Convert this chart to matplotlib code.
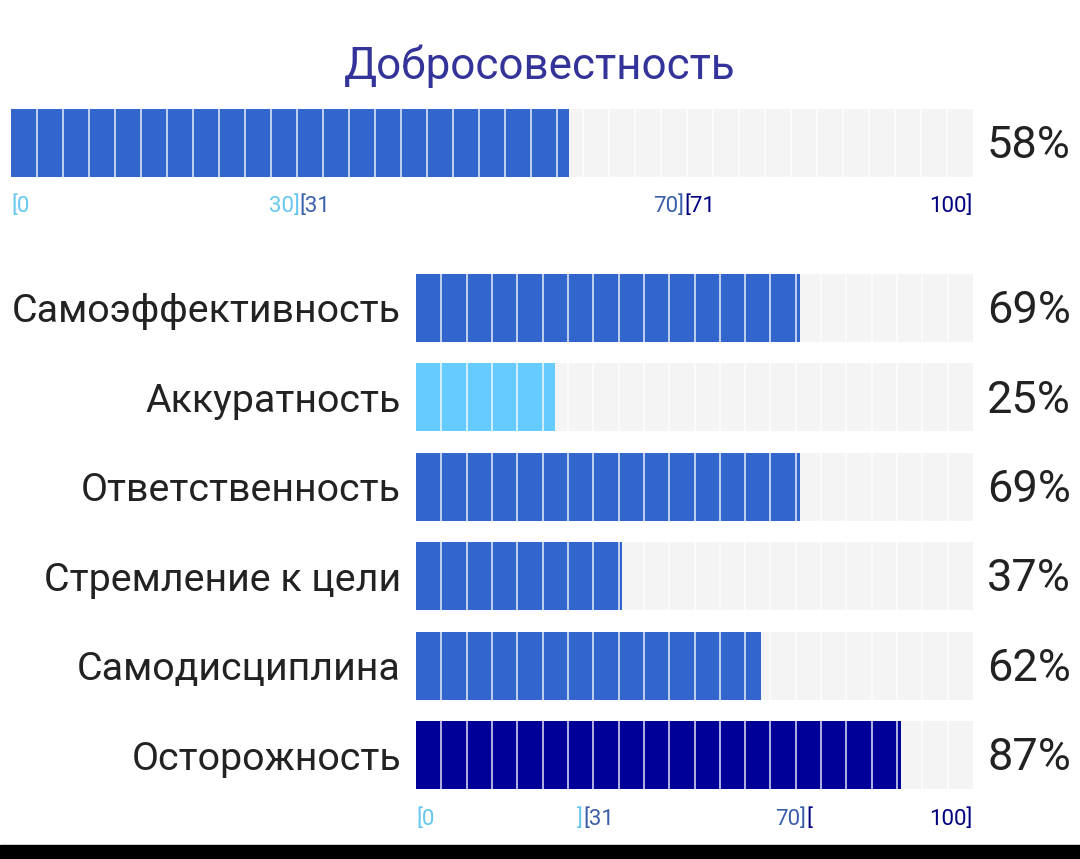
import matplotlib.pyplot as plt
from matplotlib.patches import Rectangle

plt.rcParams['font.family'] = ['Roboto', 'DejaVu Sans']

title = 'Добросовестность'
total_value = 58

facets = ['Самоэффективность', 'Аккуратность', 'Ответственность',
          'Стремление к цели', 'Самодисциплина', 'Осторожность']
facet_values = [69, 25, 69, 37, 62, 87]

LIGHT = '#66CCFF'
MID = '#3366CC'
DARK = '#000099'
BG = '#F4F4F4'


def bar_color(v):
    if v <= 30:
        return LIGHT
    if v <= 70:
        return MID
    return DARK


W, H = 1080, 859
fig = plt.figure(figsize=(W / 100, H / 100), dpi=100)


def px_axes(x0, y0, x1, y1):
    # y measured from top of the image
    return fig.add_axes([x0 / W, 1 - y1 / H, (x1 - x0) / W, (y1 - y0) / H])


def draw_bar(ax, y, v, h, nseg):
    ax.barh(y, 100, height=h, color=BG, left=0)
    ax.barh(y, v, height=h, color=bar_color(v), left=0)
    for k in range(1, nseg):
        ax.vlines(k * 100 / nseg, y - h / 2, y + h / 2, color='white',
                  lw=1.3, alpha=0.75)


# ---- top summary bar
ax_top = px_axes(11, 109, 973, 177)
draw_bar(ax_top, 0, total_value, 1, 37)
ax_top.set_xlim(0, 100)
ax_top.set_ylim(-0.5, 0.5)
ax_top.axis('off')
ax_top.text(100 + 14 / 9.62, -0.04, f'{total_value}%', ha='left',
            va='center', fontsize=32.5, color='#222222')

fig.text(540 / W, 1 - 66 / H, title, ha='center', va='center',
         fontsize=31.7, color='#333399')

tick_light = '#66C8EE'
tick_mid = '#3A5FAA'
tick_dark = '#000080'
top_ticks = [(0, '[0', tick_light, 'left'), (30, '30]', tick_light, 'right'),
             (30, '[31', tick_mid, 'left'), (70, '70]', tick_mid, 'right'),
             (70, '[71', tick_dark, 'left'), (100, '100]', tick_dark, 'right')]
for x, s, c, ha in top_ticks:
    ax_top.text(x, -0.93, s, ha=ha, va='center', fontsize=16, color=c)

# ---- facet bars
ax = px_axes(416, 274, 973, 789)
n = len(facets)
ys = list(range(n))
for y, v in zip(ys, facet_values):
    draw_bar(ax, y, v, 0.76, 22)
    ax.text(100 + 14 / 5.57, y + 0.035, f'{v}%', ha='left', va='center',
            fontsize=32.5, color='#222222')
    ax.text(-15 / 5.57, y + 0.045, facets[y], ha='right', va='center',
            fontsize=28.4, color='#222222')
ax.set_xlim(0, 100)
ax.set_ylim(n - 1 + 0.38, -0.38)
ax.axis('off')

bot_ticks = [(0, '[0', tick_light, 'left'), (30, ']', tick_light, 'right'),
             (30, '[31', tick_mid, 'left'), (70, '70]', tick_mid, 'right'),
             (70, '[', tick_dark, 'left'), (100, '100]', tick_dark, 'right')]
for x, s, c, ha in bot_ticks:
    ax.text(x, n - 1 + 0.38 + 0.34, s, ha=ha, va='center', fontsize=16,
            color=c)

# black strip along the bottom edge
fig.patches.append(Rectangle((0, 0), 1, 14 / H, transform=fig.transFigure,
                             color='black', zorder=10))

fig.savefig('out.png', dpi=100)
